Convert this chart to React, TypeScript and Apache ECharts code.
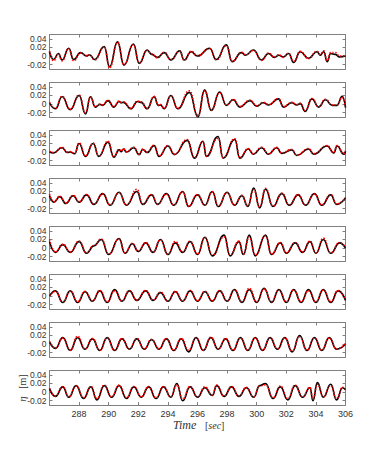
import React, { useEffect, useRef } from 'react';
import * as echarts from 'echarts';

const X_MIN = 286;
const X_MAX = 306;
const Y_MIN = -0.03;
const Y_MAX = 0.05;
const xTicks = [288, 290, 292, 294, 296, 298, 300, 302, 304, 306];
const yTicks = [-0.02, 0, 0.02, 0.04];
const yLabelsA = [-0.02, 0.02];
const yLabelsB = [0, 0.04];
const xTitle = 'Time';
const xUnit = 'sec';
const yTitle = 'η';
const yUnit = 'm';

const p1Black: number[][] = [[286,0.010],[286.27,-0.008],[286.6,0.006],[286.85,-0.009],[287.3,0.018],[287.63,-0.008],[288.1,0.008],[288.5,0.0],[288.7,0.003],[289.05,-0.008],[289.7,0.022],[290.06,-0.025],[290.6,0.033],[291.03,-0.021],[291.67,0.028],[292.06,-0.017],[292.6,0.014],[292.9,0.004],[293.3,-0.003],[293.75,0.008],[294.2,-0.009],[294.8,0.012],[295.1,-0.009],[295.57,0.010],[296.0,0.0],[296.82,0.018],[297.27,-0.008],[297.95,0.026],[298.34,-0.013],[298.97,0.008],[299.25,0.002],[299.77,0.014],[300.33,-0.009],[300.8,0.006],[301.2,-0.003],[301.5,0.002],[301.8,-0.002],[302.15,0.006],[302.5,-0.015],[302.94,0.010],[303.5,-0.005],[304.07,0.010],[304.3,0.002],[304.53,0.010],[304.76,-0.013],[305.0,0.006],[305.3,0.004],[305.6,-0.002],[306,0.0]];
const p1Red: number[][] = [[286,0.012],[286.27,-0.011],[286.6,0.005],[286.85,-0.011],[287.3,0.017],[287.63,-0.011],[288.1,0.007],[288.5,0.001],[288.7,0.003],[289.05,-0.009],[289.7,0.021],[290.06,-0.027],[290.6,0.032],[291.03,-0.020],[291.67,0.026],[292.06,-0.016],[292.6,0.013],[292.9,0.005],[293.3,-0.004],[293.75,0.009],[294.2,-0.008],[294.8,0.011],[295.1,-0.010],[295.57,0.011],[296.0,0.001],[296.82,0.017],[297.27,-0.009],[297.95,0.024],[298.34,-0.012],[298.97,0.009],[299.25,0.003],[299.77,0.013],[300.33,-0.010],[300.8,0.007],[301.2,-0.002],[301.5,0.003],[301.8,-0.003],[302.15,0.007],[302.5,-0.012],[302.94,0.011],[303.5,-0.006],[304.07,0.011],[304.3,0.004],[304.53,0.012],[304.76,-0.010],[305.0,0.008],[305.3,0.008],[305.6,0.0],[306,0.001]];
const p2Black: number[][] = [[286,0.003],[286.4,-0.011],[286.85,0.017],[287.4,-0.013],[288,0.02],[288.43,-0.023],[288.77,0.017],[289.1,-0.007],[289.4,-0.001],[289.6,-0.003],[289.95,0.008],[290.35,-0.007],[290.7,0.006],[290.85,0.003],[291.0,0.004],[291.5,-0.011],[291.95,0.006],[292.2,0.004],[292.6,-0.011],[293.07,0.017],[293.35,-0.003],[293.5,-0.002],[293.75,-0.011],[294.2,0.02],[294.67,-0.011],[295.45,0.027],[296.03,-0.03],[296.48,0.033],[296.93,-0.015],[297.5,0.028],[297.95,-0.003],[298.41,0.01],[298.86,-0.007],[299.54,0.008],[300.0,-0.005],[300.45,0.003],[300.8,-0.002],[301.47,0.012],[301.81,-0.007],[302.37,0.003],[302.71,-0.002],[302.94,0.001],[303.28,-0.017],[303.73,0.012],[304.19,-0.007],[304.64,0.01],[305.1,-0.003],[305.43,-0.003],[305.78,0.018],[306,-0.008]];
const p2Red: number[][] = [[286,0.004],[286.4,-0.010],[286.85,0.018],[287.4,-0.012],[288,0.021],[288.43,-0.020],[288.77,0.016],[289.1,-0.006],[289.4,0.0],[289.6,-0.002],[289.95,0.009],[290.35,-0.006],[290.7,0.007],[290.85,0.004],[291.0,0.005],[291.5,-0.010],[291.95,0.007],[292.2,0.005],[292.6,-0.010],[293.07,0.018],[293.35,-0.002],[293.5,-0.001],[293.75,-0.010],[294.2,0.019],[294.67,-0.010],[295.45,0.031],[296.03,-0.028],[296.48,0.030],[296.93,-0.014],[297.5,0.026],[297.95,-0.002],[298.41,0.011],[298.86,-0.006],[299.54,0.009],[300.0,-0.004],[300.45,0.004],[300.8,-0.001],[301.47,0.013],[301.81,-0.006],[302.37,0.004],[302.71,-0.001],[302.94,0.002],[303.28,-0.015],[303.73,0.013],[304.19,-0.006],[304.64,0.011],[305.1,-0.002],[305.43,-0.002],[305.78,0.015],[306,-0.006]];
const p3Black: number[][] = [[286,0.0],[286.27,-0.002],[286.85,0.01],[287.2,-0.001],[287.4,0.0],[287.7,-0.004],[288,0.02],[288.43,-0.01],[288.95,0.02],[289.33,-0.01],[289.95,0.023],[290.35,-0.012],[290.7,0.005],[290.85,0.001],[291.0,0.007],[291.2,0.0],[291.7,0.01],[292.06,-0.006],[292.3,0.006],[292.6,-0.001],[293.07,0.015],[293.4,-0.01],[294.0,0.014],[294.44,-0.006],[295.3,0.027],[295.8,-0.014],[296.37,0.025],[296.6,-0.01],[297.39,0.036],[297.73,-0.014],[298.52,0.029],[298.86,-0.014],[299.43,0.007],[299.77,-0.005],[300.33,0.01],[300.79,-0.005],[301.35,0.01],[301.69,-0.003],[302.37,0.005],[302.71,-0.008],[303.51,0.007],[303.85,-0.005],[304.76,0.014],[305.21,-0.002],[305.43,0.014],[305.89,-0.005],[306,0.002]];
const p3Red: number[][] = [[286,0.002],[286.27,-0.001],[286.85,0.011],[287.2,0.0],[287.4,0.001],[287.7,-0.003],[288,0.021],[288.43,-0.009],[288.95,0.021],[289.33,-0.009],[289.95,0.025],[290.35,-0.011],[290.7,0.006],[290.85,0.002],[291.0,0.008],[291.2,0.001],[291.7,0.011],[292.06,-0.005],[292.3,0.007],[292.6,0.0],[293.07,0.016],[293.4,-0.009],[294.0,0.015],[294.44,-0.005],[295.3,0.029],[295.8,-0.013],[296.37,0.024],[296.6,-0.009],[297.39,0.032],[297.73,-0.013],[298.52,0.031],[298.86,-0.013],[299.43,0.008],[299.77,-0.004],[300.33,0.011],[300.79,-0.004],[301.35,0.011],[301.69,-0.002],[302.37,0.006],[302.71,-0.007],[303.51,0.008],[303.85,-0.004],[304.76,0.015],[305.21,-0.001],[305.43,0.015],[305.89,-0.004],[306,0.003]];
const p4Black: number[][] = [[286,0.01],[286.3,-0.005],[286.7,0.008],[287.1,-0.008],[287.6,0.01],[288,-0.005],[288.5,0.012],[289,-0.01],[289.6,0.015],[290.1,-0.012],[290.7,0.018],[291.2,-0.012],[291.9,0.02],[292.3,-0.01],[292.9,0.012],[293.3,-0.01],[293.9,0.015],[294.4,-0.012],[295,0.02],[295.4,-0.015],[296,0.012],[296.5,-0.012],[297,0.02],[297.4,-0.015],[298,0.018],[298.5,-0.012],[299,0.01],[299.4,-0.015],[299.8,0.028],[300.2,-0.018],[300.6,0.025],[301.1,-0.015],[301.7,0.015],[302.2,-0.012],[302.8,0.012],[303.3,-0.012],[303.9,0.015],[304.4,-0.012],[305,0.012],[305.4,-0.01],[306,0.005]];
const p4Red: number[][] = [[286,0.014],[286.3,-0.004],[286.7,0.009],[287.1,-0.007],[287.6,0.011],[288,-0.004],[288.5,0.013],[289,-0.009],[289.6,0.014],[290.1,-0.011],[290.7,0.017],[291.2,-0.011],[291.9,0.025],[292.3,-0.009],[292.9,0.013],[293.3,-0.009],[293.9,0.014],[294.4,-0.011],[295,0.019],[295.4,-0.014],[296,0.013],[296.5,-0.011],[297,0.019],[297.4,-0.014],[298,0.017],[298.5,-0.011],[299,0.011],[299.4,-0.013],[299.8,0.024],[300.2,-0.016],[300.6,0.027],[301.1,-0.014],[301.7,0.016],[302.2,-0.011],[302.8,0.013],[303.3,-0.011],[303.9,0.014],[304.4,-0.011],[305,0.013],[305.4,-0.009],[306,0.006]];
const p5Black: number[][] = [[286,0.015],[286.4,-0.01],[286.9,0.008],[287.4,-0.01],[288,0.015],[288.5,-0.012],[289,0.005],[289.5,0.02],[290,-0.015],[290.7,0.022],[291.1,-0.012],[291.6,0.01],[292,-0.008],[292.5,0.012],[293,-0.01],[293.5,0.02],[294,-0.015],[294.5,0.012],[295,-0.01],[295.5,0.015],[296,-0.015],[296.5,0.025],[297,-0.018],[297.8,0.03],[298.2,-0.018],[298.8,0.015],[299.1,-0.015],[299.5,0.03],[299.9,-0.018],[300.6,0.03],[301,-0.015],[301.6,0.012],[302,-0.012],[302.6,0.012],[303.1,-0.01],[303.6,0.015],[304,-0.012],[304.5,0.02],[305,-0.012],[305.6,0.012],[306,0.0]];
const p5Red: number[][] = [[286,0.02],[286.4,-0.009],[286.9,0.009],[287.4,-0.009],[288,0.016],[288.5,-0.011],[289,0.006],[289.5,0.021],[290,-0.014],[290.7,0.021],[291.1,-0.011],[291.6,0.011],[292,-0.007],[292.5,0.013],[293,-0.009],[293.5,0.019],[294,-0.014],[294.5,0.015],[295,-0.009],[295.5,0.016],[296,-0.014],[296.5,0.024],[297,-0.016],[297.8,0.026],[298.2,-0.016],[298.8,0.016],[299.1,-0.014],[299.5,0.026],[299.9,-0.016],[300.6,0.028],[301,-0.014],[301.6,0.013],[302,-0.011],[302.6,0.013],[303.1,-0.009],[303.6,0.016],[304,-0.011],[304.5,0.023],[305,-0.011],[305.6,0.013],[306,0.001]];
const p6Black: number[][] = [[286,0.0],[286.4,0.012],[286.9,-0.015],[287.4,0.012],[287.9,-0.015],[288.4,0.01],[288.9,-0.012],[289.4,0.012],[289.9,-0.015],[290.4,0.015],[290.9,-0.012],[291.4,0.012],[291.9,-0.01],[292.5,0.012],[293,-0.01],[293.5,0.008],[294,-0.012],[294.5,0.01],[295,-0.012],[295.5,0.012],[296,-0.012],[296.5,0.01],[297,-0.012],[297.5,0.012],[298,-0.012],[298.5,0.015],[299,-0.015],[299.5,0.015],[300,-0.015],[300.5,0.018],[301,-0.015],[301.5,0.015],[302,-0.015],[302.5,0.015],[303,-0.015],[303.5,0.015],[304,-0.015],[304.5,0.015],[305,-0.015],[305.5,0.012],[306,-0.01]];
const p6Red: number[][] = [[286,0.001],[286.4,0.011],[286.9,-0.013],[287.4,0.011],[287.9,-0.013],[288.4,0.011],[288.9,-0.011],[289.4,0.013],[289.9,-0.013],[290.4,0.012],[290.9,-0.011],[291.4,0.013],[291.9,-0.009],[292.5,0.013],[293,-0.009],[293.5,0.009],[294,-0.011],[294.5,0.011],[295,-0.011],[295.5,0.013],[296,-0.011],[296.5,0.011],[297,-0.011],[297.5,0.013],[298,-0.011],[298.5,0.014],[299,-0.013],[299.5,0.018],[300,-0.013],[300.5,0.016],[301,-0.013],[301.5,0.014],[302,-0.013],[302.5,0.014],[303,-0.013],[303.5,0.012],[304,-0.013],[304.5,0.014],[305,-0.013],[305.5,0.013],[306,-0.008]];
const p7Black: number[][] = [[286,0.005],[286.4,-0.01],[286.9,0.015],[287.4,-0.015],[287.9,0.015],[288.4,-0.012],[288.9,0.012],[289.4,-0.015],[289.9,0.015],[290.4,-0.015],[290.9,0.012],[291.4,-0.012],[291.9,0.012],[292.4,-0.012],[292.9,0.01],[293.4,-0.012],[293.9,0.012],[294.4,-0.015],[294.9,0.012],[295.4,-0.018],[295.9,0.015],[296.4,-0.015],[296.9,0.015],[297.4,-0.012],[297.9,0.012],[298.4,-0.015],[298.9,0.015],[299.4,-0.015],[299.9,0.015],[300.4,-0.015],[300.9,0.015],[301.4,-0.012],[301.9,0.015],[302.4,-0.018],[302.9,0.02],[303.4,-0.015],[303.9,0.015],[304.4,-0.015],[304.9,0.015],[305.4,-0.012],[306,0.0]];
const p7Red: number[][] = [[286,0.006],[286.4,-0.009],[286.9,0.014],[287.4,-0.014],[287.9,0.018],[288.4,-0.011],[288.9,0.013],[289.4,-0.014],[289.9,0.014],[290.4,-0.014],[290.9,0.013],[291.4,-0.011],[291.9,0.013],[292.4,-0.011],[292.9,0.011],[293.4,-0.011],[293.9,0.013],[294.4,-0.014],[294.9,0.013],[295.4,-0.014],[295.9,0.014],[296.4,-0.014],[296.9,0.016],[297.4,-0.011],[297.9,0.013],[298.4,-0.014],[298.9,0.014],[299.4,-0.014],[299.9,0.014],[300.4,-0.014],[300.9,0.014],[301.4,-0.011],[301.9,0.014],[302.4,-0.016],[302.9,0.017],[303.4,-0.014],[303.9,0.014],[304.4,-0.014],[304.9,0.014],[305.4,-0.011],[306,0.001]];
const p8Black: number[][] = [[286,0.008],[286.4,-0.01],[286.9,0.012],[287.3,-0.012],[287.8,0.015],[288.3,-0.015],[288.8,0.012],[289.2,-0.018],[289.7,0.015],[290.2,-0.012],[290.7,0.015],[291.2,-0.015],[291.7,0.012],[292.2,-0.012],[292.7,0.012],[293.2,-0.015],[293.7,0.012],[294.2,-0.012],[294.6,0.02],[295,-0.02],[295.5,0.012],[296,-0.012],[296.5,0.01],[297,-0.008],[297.3,0.015],[297.8,-0.01],[298.3,0.012],[298.8,-0.01],[299.3,0.01],[299.8,-0.012],[300.2,0.015],[300.6,0.02],[301.1,-0.015],[301.6,0.012],[302.1,-0.018],[302.6,0.015],[303.1,-0.012],[303.6,0.01],[303.8,-0.02],[304.1,0.022],[304.5,-0.012],[305,0.018],[305.4,-0.018],[305.8,0.01],[306,0.005]];
const p8Red: number[][] = [[286,0.009],[286.4,-0.009],[286.9,0.013],[287.3,-0.011],[287.8,0.014],[288.3,-0.013],[288.8,0.013],[289.2,-0.015],[289.7,0.016],[290.2,-0.011],[290.7,0.016],[291.2,-0.013],[291.7,0.013],[292.2,-0.011],[292.7,0.013],[293.2,-0.013],[293.7,0.013],[294.2,-0.011],[294.6,0.016],[295,-0.016],[295.5,0.013],[296,-0.011],[296.5,0.012],[297,-0.007],[297.3,0.016],[297.8,-0.009],[298.3,0.013],[298.8,-0.009],[299.3,0.011],[299.8,-0.011],[300.2,0.014],[300.6,0.017],[301.1,-0.013],[301.6,0.014],[302.1,-0.015],[302.6,0.016],[303.1,-0.011],[303.6,0.011],[303.8,-0.016],[304.1,0.018],[304.5,-0.011],[305,0.015],[305.4,-0.015],[305.8,0.011],[306,0.006]];

const blackSeries = [p1Black, p2Black, p3Black, p4Black, p5Black, p6Black, p7Black, p8Black];
const redSeries = [p1Red, p2Red, p3Red, p4Red, p5Red, p6Red, p7Red, p8Red];

const FRAME = '#808080';
const LABEL = '#333333';

const fmt = (v: number) => (Math.abs(v) < 1e-9 ? '0' : v.toFixed(2));

function buildOption() {
  const grid: any[] = [];
  const xAxis: any[] = [];
  const yAxis: any[] = [];
  const series: any[] = [];
  const n = blackSeries.length;
  for (let i = 0; i < n; i++) {
    grid.push({ left: 49.5, width: 296, top: 34.5 + 48 * i, height: 34.5 });
    const last = i === n - 1;
    const lineStyle = { color: FRAME, width: 1 };
    xAxis.push({
      type: 'value', gridIndex: i, min: X_MIN, max: X_MAX, position: 'bottom',
      axisLine: { show: true, onZero: false, lineStyle },
      axisTick: { show: true, inside: true, length: 3, customValues: xTicks, lineStyle },
      axisLabel: { show: last, customValues: xTicks, color: LABEL, fontSize: 9, fontFamily: 'Liberation Sans', margin: 4 },
      splitLine: { show: false },
    });
    xAxis.push({
      type: 'value', gridIndex: i, min: X_MIN, max: X_MAX, position: 'top',
      axisLine: { show: true, onZero: false, lineStyle },
      axisTick: { show: true, inside: true, length: 3, customValues: xTicks, lineStyle },
      axisLabel: { show: false },
      splitLine: { show: false },
    });
    const labelBase = { show: true, color: LABEL, fontSize: 8.5, fontFamily: 'Liberation Sans', margin: 3, formatter: fmt };
    yAxis.push({
      type: 'value', gridIndex: i, min: Y_MIN, max: Y_MAX, position: 'left',
      axisLine: { show: true, onZero: false, lineStyle },
      axisTick: { show: true, inside: true, length: 3, customValues: yTicks, lineStyle },
      axisLabel: { ...labelBase, customValues: yLabelsA },
      splitLine: { show: false },
    });
    yAxis.push({
      type: 'value', gridIndex: i, min: Y_MIN, max: Y_MAX, position: 'left',
      axisLine: { show: false },
      axisTick: { show: false },
      axisLabel: { ...labelBase, customValues: yLabelsB },
      splitLine: { show: false },
    });
    yAxis.push({
      type: 'value', gridIndex: i, min: Y_MIN, max: Y_MAX, position: 'right',
      axisLine: { show: true, onZero: false, lineStyle },
      axisTick: { show: true, inside: true, length: 3, customValues: yTicks, lineStyle },
      axisLabel: { show: false },
      splitLine: { show: false },
    });
    series.push({
      type: 'line', xAxisIndex: 2 * i, yAxisIndex: 3 * i, data: blackSeries[i],
      smooth: 0.5, smoothMonotone: 'x', showSymbol: false, symbol: 'none',
      lineStyle: { color: '#000000', width: 1.6 }, silent: true, z: 2,
    });
    series.push({
      type: 'line', xAxisIndex: 2 * i, yAxisIndex: 3 * i, data: redSeries[i],
      smooth: 0.5, smoothMonotone: 'x', showSymbol: false, symbol: 'none',
      lineStyle: { color: '#ff0000', width: 1.6, type: [1.5, 1.5] }, silent: true, z: 3,
    });
  }
  return {
    animation: false,
    backgroundColor: '#ffffff',
    grid, xAxis, yAxis, series,
    graphic: [
      {
        type: 'text', x: 173, y: 425,
        style: {
          text: xTitle, fill: LABEL, font: 'italic 12px "Liberation Serif"', verticalAlign: 'middle',
        },
      },
      {
        type: 'text', x: 205, y: 425,
        style: {
          text: `[{i|${xUnit}}]`, fill: LABEL, font: '10px "Liberation Serif"', verticalAlign: 'middle',
          rich: { i: { fontStyle: 'italic', fontFamily: 'Liberation Serif', fontSize: 10, fill: LABEL } },
        },
      },
      {
        type: 'text', x: 22, y: 388, rotation: Math.PI / 2,
        style: {
          text: `{i|${yTitle}}   [${yUnit}]`,
          fill: LABEL, font: '10px "Liberation Serif"', align: 'center', verticalAlign: 'middle',
          rich: { i: { fontStyle: 'italic', fontFamily: 'Liberation Serif', fontSize: 11, fill: LABEL } },
        },
      },
    ],
  };
}

export default function App() {
  const ref = useRef<HTMLDivElement>(null);
  useEffect(() => {
    if (!ref.current) return;
    const chart = echarts.init(ref.current, undefined, { renderer: 'svg' });
    chart.setOption(buildOption() as any);
    return () => chart.dispose();
  }, []);
  return <div ref={ref} style={{ width: 382, height: 458, position: 'absolute', left: 0, top: 0 }} />;
}
